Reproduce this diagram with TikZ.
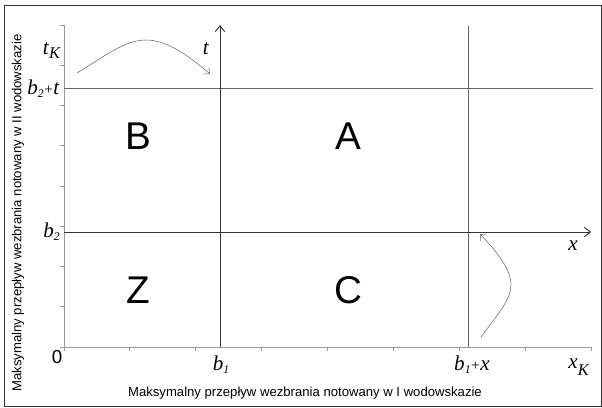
\documentclass[tikz,border=0pt]{standalone}
\usepackage{fontspec}
\setmainfont{Liberation Sans}
\newfontfamily\lblserif{Liberation Serif}
\usepackage{tikz}
\usetikzlibrary{arrows.meta,positioning}

% italic symbol with a lowered index
\newcommand{\symidx}[3]{\textit{#1}\raisebox{#3}{\fontsize{10}{10}\selectfont\textit{#2}}}
\newcommand{\symbig}[3]{\textit{#1}\raisebox{#3}{\fontsize{14}{14}\selectfont\textit{#2}}}
\newcommand{\splus}{\kern0.5pt{\fontsize{13}{13}\selectfont+}\kern0.5pt}

\begin{document}
\begin{tikzpicture}[
    x=0.03cm, y=-0.03cm,
    frame/.style={draw=black!80, line width=0.8pt},
    axis/.style={draw=black!40, line width=0.7pt},
    mainaxis/.style={draw=black!80, line width=0.8pt, -{Straight Barb[length=5pt,width=8pt]}},
    grid/.style={draw=black!60, line width=0.6pt},
    flow/.style={draw=black!60, line width=0.45pt, -{Straight Barb[length=4pt,width=7pt]}},
    region/.style={font=\fontsize{33}{33}\selectfont},
    mlabel/.style={font=\lblserif\fontsize{18}{18}\selectfont, inner sep=0pt},
    caption/.style={font=\fontsize{11.2}{13}\selectfont}
]
    \useasboundingbox (0,0) rectangle (602,407);
    \draw[frame] (4,5) rectangle (601,406);

    % --- Named points ---
    \coordinate (O) at (64,347);
    \coordinate (xend) at (591,347);
    \coordinate (ytop) at (64,25);
    \coordinate (b2L) at (64,232);
    \coordinate (b2R) at (591,232);
    \coordinate (btL) at (64,88);
    \coordinate (btR) at (593,88);
    \coordinate (tbot) at (220,347);
    \coordinate (ttop) at (220,25);
    \coordinate (xbot) at (468,347);
    \coordinate (xtop) at (468,26);

    % --- Outer axes with ticks ---
    \draw[axis] (O) -- (xend);
    \draw[axis] (O) -- (ytop);
    \foreach \i in {0,...,8}
        \draw[axis] (64+65.9*\i,347) -- ++(0,4);
    \foreach \i in {0,...,8}
        \draw[axis] (64,25+40.25*\i) -- ++(-4,0);

    % --- Thresholds ---
    \draw[grid] (btL) -- (btR);
    \draw[grid] (xbot) -- (xtop);
    \draw[mainaxis] (b2L) -- (b2R);
    \draw[mainaxis] (tbot) -- (ttop);

    % --- Regions ---
    \node[region] (B) at (138,136) {B};
    \node[region] (A) at (348,136) {A};
    \node[region] (Z) at (138,290) {Z};
    \node[region] (C) at (348,290) {C};

    % --- Labels ---
    \node[font=\fontsize{16}{16}\selectfont, inner sep=0pt] (lzero) at (57,357) {0};
    \node[mlabel, anchor=base east] (ltK) at (61,54) {\symbig{t}{K}{-0.45ex}};
    \node[mlabel, anchor=base east] (lb2t) at (60,94) {\symidx{b}{2}{-0.35ex}\splus\textit{t}};
    \node[mlabel, anchor=base east] (lb2) at (60,237) {\symidx{b}{2}{-0.35ex}};
    \node[mlabel, anchor=base] (lb1) at (221,370) {\symidx{b}{1}{-0.35ex}};
    \node[mlabel, anchor=base] (lb1x) at (472,370) {\symidx{b}{1}{-0.35ex}\splus\textit{x}};
    \node[mlabel, anchor=base] (lxK) at (579,368) {\symbig{x}{K}{-0.8ex}};
    \node[mlabel, anchor=base] (lt) at (206,54) {\textit{t}};
    \node[mlabel, anchor=base] (lx) at (573,250) {\textit{x}};

    % --- Flow curves ---
    \coordinate (c1s) at (77,73);
    \coordinate (c1p) at (146,40);
    \coordinate (c1e) at (210,74);
    \draw[flow] (c1s) .. controls (105,56) and (125,40) .. (c1p)
        .. controls (168,40) and (190,57) .. (c1e);
    \coordinate (c2s) at (481,337);
    \coordinate (c2p) at (511,285);
    \coordinate (c2e) at (480,234);
    \draw[flow] (c2s) .. controls (497,315) and (511,300) .. (c2p)
        .. controls (511,268) and (495,250) .. (c2e);

    % --- Axis captions ---
    \node[caption] (xcap) at (305,393) {Maksymalny przepływ wezbrania notowany w I wodowskazie};
    \node[caption, rotate=90] (ycap) at (18,213) {Maksymalny przepływ wezbrania notowany w II wodowskazie};

\end{tikzpicture}
\end{document}
